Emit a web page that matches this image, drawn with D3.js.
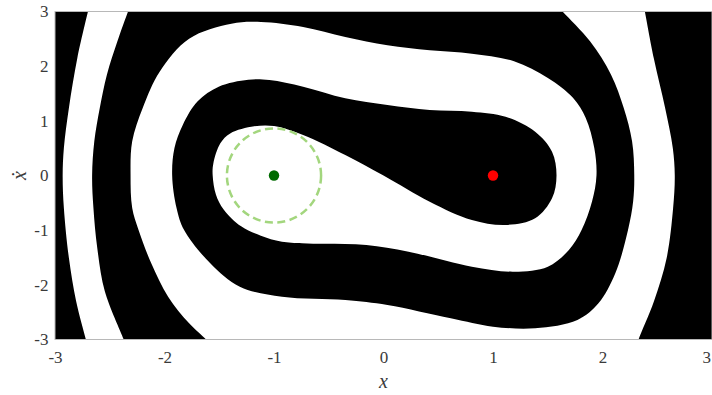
<!DOCTYPE html>
<html>
<head>
<meta charset="utf-8">
<script src="https://cdn.jsdelivr.net/npm/d3@7"></script>
<style>
  html, body { margin: 0; padding: 0; background: #fff; }
  svg { display: block; }
  .serif { font-family: "Liberation Serif", "Times New Roman", Tinos, Times, "DejaVu Serif", "Noto Serif", serif; }
</style>
</head>
<body>
<svg id="chart" width="712" height="395"></svg>
<script>
// Axis ticks of the phase plane (x, ẋ)
const xTicks = [-3, -2, -1, 0, 1, 2, 3];
const vTicks = [-3, -2, -1, 0, 1, 2, 3];

// Stable equilibria and their marker colours
const equilibriaX = [-1, 1];
const equilibriaV = [0, 0];
const equilibriaColor = ["#006b00", "#ff0000"];

// Dashed neighbourhood around the left equilibrium
const neighbourhoodCenter = [-1, 0];
const neighbourhoodRadius = 0.43;

// Basin boundary through the saddle: branch leaving up-left, spiralling outwards
const separatrixA = [
  [0, 0], [-0.349, 0.375], [-0.734, 0.741], [-1.00, 0.905], [-1.18, 0.90],
  [-1.40, 0.77], [-1.49, 0.59], [-1.554, 0.22], [-1.56, 0], [-1.53, -0.35],
  [-1.46, -0.62], [-1.30, -0.93], [-1.12, -1.10], [-0.927, -1.21], [-0.542, -1.25],
  [-0.156, -1.271], [0.229, -1.393], [0.807, -1.667], [1.192, -1.759], [1.501, -1.667],
  [1.693, -1.362], [1.809, -0.997], [1.905, -0.472], [1.945, 0], [1.925, 0.503],
  [1.847, 1.052], [1.732, 1.418], [1.501, 1.784], [1.192, 2.089], [0.807, 2.229],
  [0.422, 2.290], [0.036, 2.381], [-0.349, 2.534], [-0.734, 2.716], [-1.120, 2.808],
  [-1.389, 2.777], [-1.775, 2.503], [-2.044, 1.90], [-2.199, 1.235], [-2.295, 0.625],
  [-2.31, 0], [-2.295, -0.594], [-2.237, -0.997], [-2.121, -1.606], [-1.967, -2.216],
  [-1.775, -2.704], [-1.62, -3.0], [-1.56, -3.12]
];

// Basin boundary through the saddle: branch leaving down-right, spiralling outwards
const separatrixB = [
  [0, 0], [0.422, -0.478], [0.807, -0.814], [1.115, -0.905], [1.385, -0.783],
  [1.539, -0.417], [1.58, 0], [1.539, 0.436], [1.385, 0.802], [1.115, 1.076],
  [0.807, 1.168], [0.422, 1.198], [0.036, 1.290], [-0.349, 1.412], [-0.734, 1.625],
  [-1.042, 1.747], [-1.235, 1.753], [-1.505, 1.625], [-1.697, 1.357], [-1.832, 0.930],
  [-1.909, 0.503], [-1.93, 0], [-1.89, -0.594], [-1.821, -0.997], [-1.582, -1.606],
  [-1.312, -2.033], [-0.927, -2.216], [-0.349, -2.277], [0.036, -2.368], [0.614, -2.612],
  [1.000, -2.765], [1.385, -2.795], [1.771, -2.643], [1.963, -2.338], [2.117, -1.789],
  [2.233, -0.997], [2.28, -0.472], [2.29, 0], [2.27, 0.625], [2.194, 1.235],
  [2.078, 1.845], [1.886, 2.454], [1.635, 3.0], [1.58, 3.12]
];

// Outer edge of the right-hand white arc (top to bottom)
const outerArcRight = [
  [2.376, 3.12], [2.387, 3.0], [2.468, 2.149], [2.572, 1.235], [2.642, 0.503],
  [2.66, 0], [2.645, -0.594], [2.586, -1.510], [2.47, -2.301], [2.329, -3.0], [2.31, -3.12]
];

// Edges of the thin white arc on the left (top to bottom)
const leftArcOuter = [
  [-2.685, 3.12], [-2.699, 3.0], [-2.796, 2.149], [-2.873, 1.235], [-2.919, 0.503],
  [-2.93, 0], [-2.919, -0.594], [-2.873, -1.510], [-2.807, -2.301], [-2.718, -3.0], [-2.703, -3.12]
];
const leftArcInner = [
  [-2.31, 3.12], [-2.333, 3.0], [-2.430, 2.454], [-2.526, 1.845], [-2.591, 1.235],
  [-2.641, 0.625], [-2.661, 0], [-2.649, -0.594], [-2.614, -1.326], [-2.545, -2.118],
  [-2.372, -3.0], [-2.35, -3.12]
];

const plot = { left: 55, right: 712, top: 11.5, bottom: 339.5 };
const x = d3.scaleLinear().domain([-3, 3]).range([plot.left, plot.right]);
const y = d3.scaleLinear().domain([-3, 3]).range([plot.bottom, plot.top]);

const svg = d3.select("#chart");

svg.append("defs").append("clipPath").attr("id", "plotClip")
  .append("rect")
  .attr("x", plot.left).attr("y", plot.top)
  .attr("width", plot.right - plot.left).attr("height", plot.bottom - plot.top);

const g = svg.append("g").attr("clip-path", "url(#plotClip)");

// Basin of the right equilibrium (black background)
g.append("rect")
  .attr("x", plot.left).attr("y", plot.top)
  .attr("width", plot.right - plot.left).attr("height", plot.bottom - plot.top)
  .attr("fill", "#000");

const boundary = d3.line()
  .x(d => x(d[0])).y(d => y(d[1]))
  .curve(d3.curveCatmullRom.alpha(0.5));

// Basin of the left equilibrium (white spiral band)
const mainBasin = [...separatrixA.slice().reverse(), ...separatrixB.slice(1), ...outerArcRight];
g.append("path").attr("d", boundary(mainBasin) + "Z").attr("fill", "#fff");

const leftArc = [...leftArcOuter, ...leftArcInner.slice().reverse()];
g.append("path").attr("d", boundary(leftArc) + "Z").attr("fill", "#fff");

// Dashed neighbourhood circle
g.append("circle")
  .attr("cx", x(neighbourhoodCenter[0])).attr("cy", y(neighbourhoodCenter[1]))
  .attr("r", x(neighbourhoodCenter[0] + neighbourhoodRadius) - x(neighbourhoodCenter[0]))
  .attr("fill", "none")
  .attr("stroke", "#a3d67e")
  .attr("stroke-width", 2.5)
  .attr("stroke-dasharray", "8,4.5");

// Equilibrium markers
g.selectAll("circle.eq")
  .data(equilibriaX.map((d, i) => ({ x: d, v: equilibriaV[i], c: equilibriaColor[i] })))
  .join("circle")
  .attr("class", "eq")
  .attr("cx", d => x(d.x)).attr("cy", d => y(d.v))
  .attr("r", 5.2)
  .attr("fill", d => d.c);

// Frame
svg.append("rect")
  .attr("x", plot.left).attr("y", plot.top)
  .attr("width", plot.right - plot.left).attr("height", plot.bottom - plot.top)
  .attr("fill", "none").attr("stroke", "#b8b8b8").attr("stroke-width", 1);

// Axes
const xAxis = svg.append("g")
  .attr("transform", `translate(0,${plot.bottom})`)
  .call(d3.axisBottom(x).tickValues(xTicks).tickSize(0).tickPadding(11.5).tickFormat(d => String(d)));
const yAxis = svg.append("g")
  .attr("transform", `translate(${plot.left},0)`)
  .call(d3.axisLeft(y).tickValues(vTicks).tickSize(0).tickPadding(6.5).tickFormat(d => String(d)));

[xAxis, yAxis].forEach(a => {
  a.attr("font-family", null);
  a.select(".domain").remove();
  a.selectAll("text")
    .attr("class", "serif")
    .attr("fill", "#3a3a3a")
    .style("font-size", "17px");
});

// The last x tick sits on the window edge; keep its label inside
xAxis.selectAll(".tick").filter(d => d === xTicks[xTicks.length - 1])
  .select("text").attr("text-anchor", "end").attr("dx", "-1.5");

// Axis titles
svg.append("text")
  .attr("class", "serif")
  .attr("x", x(0)).attr("y", 388)
  .attr("text-anchor", "middle")
  .attr("fill", "#3a3a3a")
  .style("font-style", "italic").style("font-size", "20px")
  .text("x");

svg.append("text")
  .attr("class", "serif")
  .attr("transform", `translate(26,${y(0)}) rotate(-90)`)
  .attr("text-anchor", "middle")
  .attr("fill", "#3a3a3a")
  .style("font-style", "italic").style("font-size", "20px")
  .text("ẋ");
</script>
</body>
</html>
